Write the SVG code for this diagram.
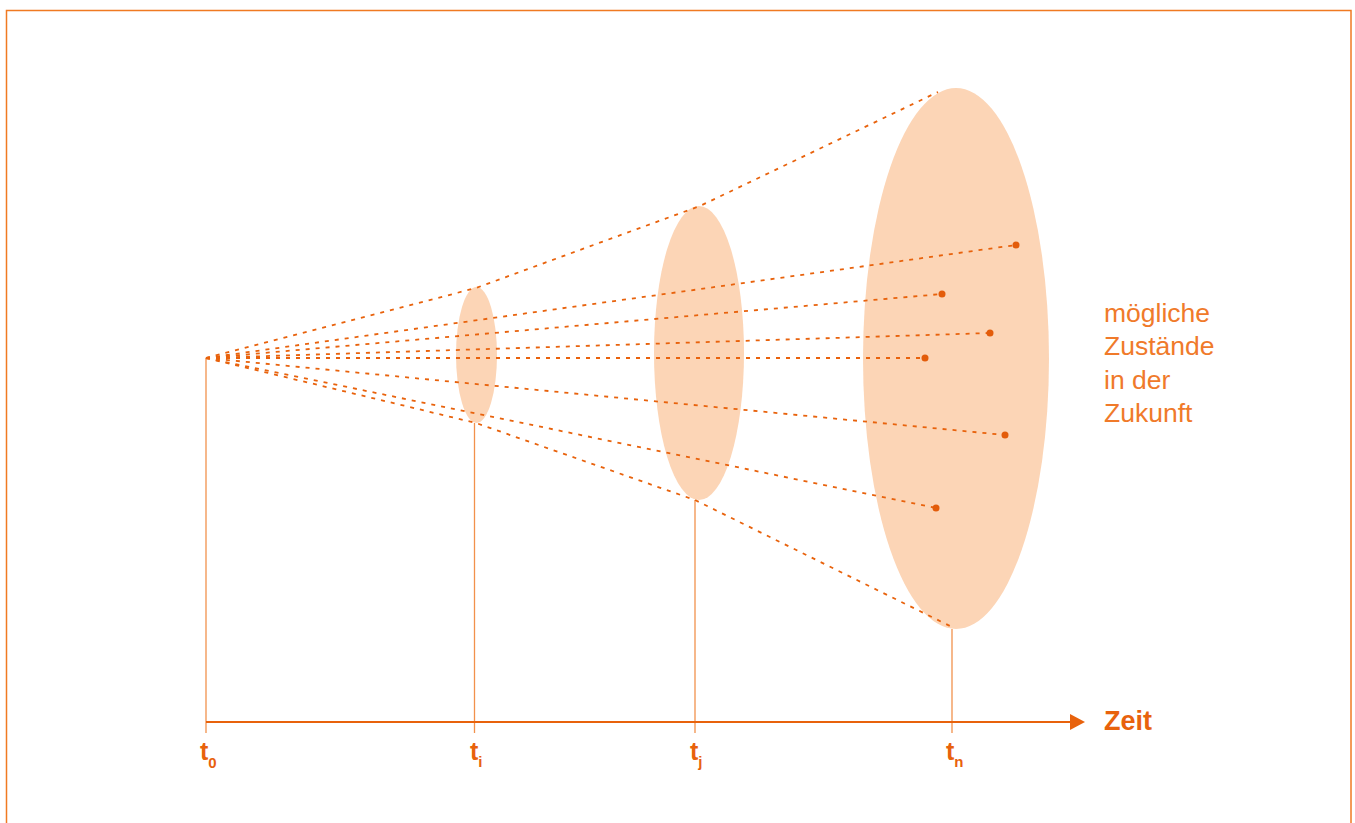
<svg xmlns="http://www.w3.org/2000/svg" width="1355" height="823" viewBox="0 0 1355 823">
<defs>
<style>
.frame{fill:none;stroke:#f07a22;stroke-width:1.5}
.blob{fill:#fcd5b6}
.vline{stroke:#f2914c;stroke-width:1.3;fill:none}
.axis{stroke:#e8620c;stroke-width:2.2;fill:none}
.dash{stroke:#e8620c;stroke-width:1.8;fill:none;stroke-dasharray:4 6}
.dot{fill:#e35c0a}
.lbl{font-family:"Liberation Sans",Arial,sans-serif;font-weight:bold;fill:#e8620c}
.note{font-family:"Liberation Sans",Arial,sans-serif;font-size:26.5px;fill:#f07a2a}
</style>
<marker id="arr" markerWidth="16" markerHeight="16" refX="0" refY="8" orient="auto" markerUnits="userSpaceOnUse">
<path d="M0,0 L15,8 L0,16 z" fill="#e8620c"/>
</marker>
</defs>
<rect class="frame" x="6.5" y="10.5" width="1344.5" height="830"/>
<g id="ellipse-ti"><ellipse class="blob" cx="476.5" cy="355" rx="20.5" ry="68"/></g>
<g id="ellipse-tj"><ellipse class="blob" cx="699" cy="353" rx="45" ry="147"/></g>
<g id="ellipse-tn"><ellipse class="blob" cx="956" cy="358.5" rx="93" ry="270.5"/></g>
<g id="connectors">
<line class="vline" x1="206" y1="358" x2="206" y2="733"/>
<line class="vline" x1="474.5" y1="423" x2="474.5" y2="733"/>
<line class="vline" x1="695" y1="500" x2="695" y2="733"/>
<line class="vline" x1="952" y1="629" x2="952" y2="733"/>
<line class="axis" x1="206" y1="722" x2="1070" y2="722" marker-end="url(#arr)"/>
<polyline class="dash" points="206,358 476,288 700,206 938,92"/>
<polyline class="dash" points="206,358 476,423 695,500 950,626"/>
<line class="dash" x1="206" y1="358" x2="1016" y2="245"/>
<line class="dash" x1="206" y1="358" x2="942" y2="294"/>
<line class="dash" x1="206" y1="358" x2="990" y2="333"/>
<line class="dash" x1="206" y1="358" x2="925" y2="358"/>
<line class="dash" x1="206" y1="358" x2="1005" y2="435"/>
<line class="dash" x1="206" y1="358" x2="936" y2="508"/>
<circle class="dot" cx="1016" cy="245" r="3.5"/>
<circle class="dot" cx="942" cy="294" r="3.5"/>
<circle class="dot" cx="990" cy="333" r="3.5"/>
<circle class="dot" cx="925" cy="358" r="3.5"/>
<circle class="dot" cx="1005" cy="435" r="3.5"/>
<circle class="dot" cx="936" cy="508" r="3.5"/>
</g>
<g id="labels">
<text class="lbl" x="200" y="760" font-size="25">t<tspan font-size="15" dy="8">0</tspan></text>
<text class="lbl" x="470" y="760" font-size="25">t<tspan font-size="15" dy="7">i</tspan></text>
<text class="lbl" x="690" y="760" font-size="25">t<tspan font-size="15" dy="7">j</tspan></text>
<text class="lbl" x="946" y="760" font-size="25">t<tspan font-size="15" dy="7">n</tspan></text>
<text class="lbl" x="1104" y="730" font-size="27">Zeit</text>
</g>
<g id="note">
<text class="note" x="1104" y="322">mögliche</text>
<text class="note" x="1104" y="355">Zustände</text>
<text class="note" x="1104" y="389">in der</text>
<text class="note" x="1104" y="422">Zukunft</text>
</g>
</svg>
